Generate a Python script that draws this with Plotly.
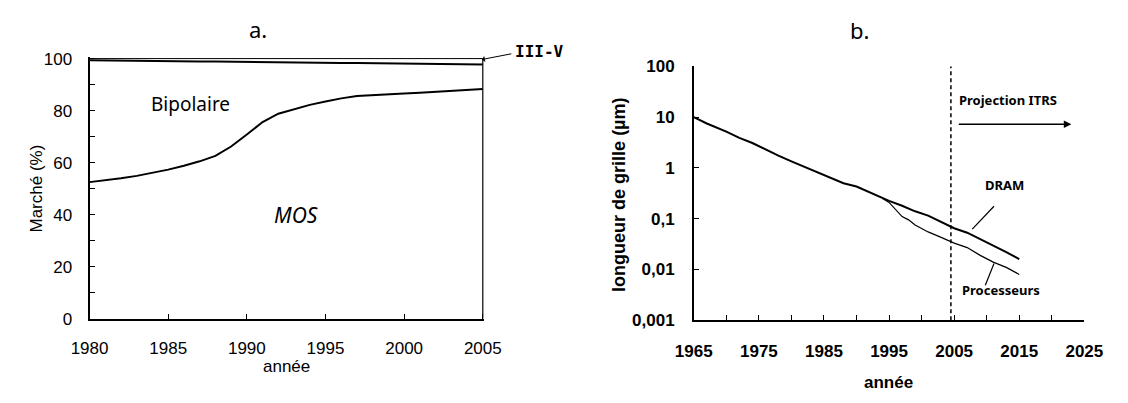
import plotly.graph_objects as go

W, H = 1128, 403

# ---- (a) parts de marché des technologies de semi-conducteurs ----
annees_a = [1980, 1981, 1982, 1983, 1984, 1985, 1986, 1987, 1988, 1989, 1990, 1991, 1992,
            1993, 1994, 1995, 1996, 1997, 1998, 1999, 2000, 2001, 2002, 2003, 2004, 2005]
part_mos = [52.5, 53.2, 54.0, 54.9, 56.0, 57.3, 58.8, 60.5, 62.6, 66.2, 70.8, 75.6, 78.8,
            80.6, 82.2, 83.5, 84.7, 85.6, 86.0, 86.3, 86.6, 86.9, 87.3, 87.7, 88.0, 88.3]
part_iii_v = [0.6, 0.7, 0.7, 0.8, 0.9, 0.9, 1.0, 1.1, 1.1, 1.2, 1.3, 1.3, 1.4,
              1.5, 1.5, 1.6, 1.7, 1.7, 1.8, 1.9, 1.9, 2.0, 2.1, 2.1, 2.2, 2.3]
# les trois parts totalisent 100 %
part_bipolaire = [round(100 - m - v, 2) for m, v in zip(part_mos, part_iii_v)]

# ---- (b) longueur de grille (µm) ----
annees_dram = [1965, 1967, 1970, 1972, 1974, 1976, 1978, 1980, 1982, 1984, 1986, 1988, 1990,
               1992, 1994, 1995, 1997, 1999, 2001, 2003, 2005, 2007, 2009, 2011, 2013, 2015]
grille_dram = [10, 7.5, 5.2, 3.9, 3.1, 2.3, 1.75, 1.35, 1.05, 0.82, 0.62, 0.5, 0.43,
               0.33, 0.25, 0.225, 0.18, 0.14, 0.115, 0.085, 0.065, 0.053, 0.04, 0.03, 0.022, 0.016]
annees_proc = [1994, 1995, 1997, 1998, 1999, 2001, 2003, 2005, 2007, 2009, 2011, 2013, 2015]
grille_proc = [0.25, 0.21, 0.11, 0.095, 0.075, 0.055, 0.043, 0.033, 0.027, 0.019, 0.014, 0.011, 0.008]
annee_projection = 2004.5

ticks_b_y = [0.001, 0.01, 0.1, 1, 10, 100]
ticks_b_txt = ["0,001", "0,01", "0,1", "1", "10", "100"]


def px(x):
    return x / W


def py(y):
    return 1 - y / H


ARIAL = "Liberation Sans, Arial, sans-serif"
COMIC = "Noto Sans, sans-serif"
MONO = "DejaVu Sans Mono, monospace"

fig = go.Figure()

# stacked market shares
fig.add_trace(go.Scatter(x=annees_a, y=part_mos, stackgroup="m", mode="lines",
                         line=dict(color="black", width=2), fillcolor="rgba(0,0,0,0)",
                         xaxis="x", yaxis="y", hoverinfo="skip"))
fig.add_trace(go.Scatter(x=annees_a, y=part_bipolaire, stackgroup="m", mode="lines",
                         line=dict(color="black", width=2), fillcolor="rgba(0,0,0,0)",
                         xaxis="x", yaxis="y", hoverinfo="skip"))
fig.add_trace(go.Scatter(x=annees_a, y=part_iii_v, stackgroup="m", mode="lines",
                         line=dict(color="black", width=1), fillcolor="rgba(0,0,0,0)",
                         xaxis="x", yaxis="y", hoverinfo="skip"))
# right edge of the stacked area
fig.add_trace(go.Scatter(x=[annees_a[-1], annees_a[-1]], y=[0, 100], mode="lines",
                         line=dict(color="black", width=1.2), xaxis="x", yaxis="y",
                         hoverinfo="skip"))

# gate length curves
fig.add_trace(go.Scatter(x=annees_dram, y=grille_dram, mode="lines",
                         line=dict(color="black", width=2), xaxis="x2", yaxis="y2",
                         hoverinfo="skip"))
fig.add_trace(go.Scatter(x=annees_proc, y=grille_proc, mode="lines",
                         line=dict(color="black", width=1.2), xaxis="x2", yaxis="y2",
                         hoverinfo="skip"))
fig.add_trace(go.Scatter(x=[annee_projection, annee_projection], y=[0.001, 100], mode="lines",
                         line=dict(color="black", width=1.5, dash="4px,3px"),
                         xaxis="x2", yaxis="y2", hoverinfo="skip"))

ax_common = dict(showgrid=False, zeroline=False, showline=True, linecolor="black",
                 ticks="inside", ticklen=5, tickwidth=1, tickcolor="black")

fig.update_layout(
    width=W, height=H, margin=dict(l=0, r=0, t=0, b=0),
    paper_bgcolor="white", plot_bgcolor="white", showlegend=False,
    xaxis=dict(**ax_common, domain=[px(73), px(481.6)], range=[1980, 2005.1],
               tickvals=[1980, 1985, 1990, 1995, 2000, 2005], linewidth=2,
               tickfont=dict(family=ARIAL, size=17, color="black"),
               ticklabelstandoff=13, anchor="y"),
    yaxis=dict(**ax_common, domain=[py(325), py(50.4)], range=[0, 100.6],
               tickvals=[0, 20, 40, 60, 80, 100], linewidth=2,
               minor=dict(tickvals=[10, 30, 50, 70, 90], ticks="inside", ticklen=5,
                          tickcolor="black"),
               tickfont=dict(family=ARIAL, size=17, color="black"),
               ticklabelstandoff=12, anchor="x"),
    xaxis2=dict(**ax_common, domain=[px(698.3), px(1102.5)], range=[1965, 2025],
                tickvals=[1965, 1975, 1985, 1995, 2005, 2015, 2025], linewidth=2,
                minor=dict(tickvals=[1970, 1980, 1990, 2000, 2010, 2020], ticks="inside",
                           ticklen=5, tickcolor="black"),
                tickfont=dict(family=ARIAL, size=17, color="black", weight="bold"),
                ticklabelstandoff=14, anchor="y2"),
    yaxis2=dict(**ax_common, domain=[py(326.7), py(60.2)], type="log", range=[-3, 2],
                tickvals=ticks_b_y, ticktext=ticks_b_txt, linewidth=1.5,
                tickfont=dict(family=ARIAL, size=17, color="black", weight="bold"),
                ticklabelstandoff=14, anchor="x2"),
)

ann = []


def txt(x, y, t, size, family=COMIC, bold=False, italic=False, xanchor="center", angle=0):
    ann.append(dict(x=px(x), y=py(y), xref="paper", yref="paper", text=t, showarrow=False,
                    xanchor=xanchor, yanchor="middle", textangle=angle,
                    font=dict(family=family, size=size, color="black",
                              weight="bold" if bold else "normal",
                              style="italic" if italic else "normal")))


def arrow(x_head, y_head, x_tail, y_tail, head, width):
    ann.append(dict(x=px(x_head), y=py(y_head), xref="paper", yref="paper",
                    ax=x_tail - x_head, ay=y_tail - y_head, axref="pixel", ayref="pixel",
                    text="", showarrow=True, arrowhead=head, arrowsize=1,
                    arrowwidth=width, arrowcolor="black"))


txt(247, 21, "a.", 22)
txt(870, 22, "b.", 22)
txt(177, 100, "Bipolaire", 19)
txt(287, 216, "MOS", 21, italic=True)
txt(511, 45, "III-V", 16, family=MONO, bold=True, xanchor="left")
txt(18, 188, "Marché (%)", 17, family=ARIAL, angle=-90)
txt(277, 375, "année", 17, family=ARIAL)
txt(621, 195, "longueur de grille (µm)", 18, family=ARIAL, bold=True, angle=-90)
txt(900, 392, "année", 17, family=ARIAL, bold=True)
txt(971, 96, "Projection ITRS", 13, bold=True, xanchor="left")
txt(1020, 185, "DRAM", 13, bold=True)
txt(1016, 295, "Processeurs", 13, bold=True)

arrow(479, 53, 510, 47, 1, 1)
arrow(1089, 121, 975, 121, 2, 1.5)
fig.update_layout(annotations=ann)

# leader lines for the curve labels
fig.update_layout(shapes=[
    dict(type="line", xref="paper", yref="paper", x0=px(1009), y0=py(207), x1=px(986.5), y1=py(231),
         line=dict(color="black", width=1.2)),
    dict(type="line", xref="paper", yref="paper", x0=px(1009), y0=py(267), x1=px(1000), y1=py(290),
         line=dict(color="black", width=1.2)),
])

fig.write_html("out.html")
